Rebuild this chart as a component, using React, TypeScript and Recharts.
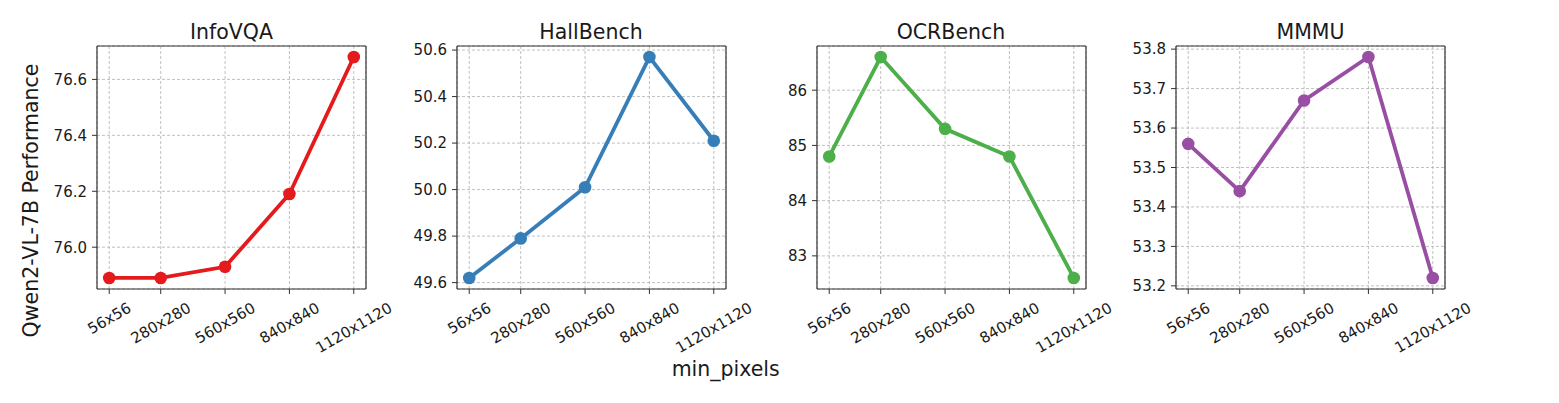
import React from 'react';
import { LineChart, Line, XAxis, YAxis, CartesianGrid } from 'recharts';

const categories = ['56x56', '280x280', '560x560', '840x840', '1120x1120'];
const minPixels = [56, 280, 560, 840, 1120];

const infoVQA = [75.89, 75.89, 75.93, 76.19, 76.68];
const hallBench = [49.62, 49.79, 50.01, 50.57, 50.21];
const ocrBench = [84.8, 86.6, 85.3, 84.8, 82.6];
const mmmu = [53.56, 53.44, 53.67, 53.78, 53.22];

const infoTicks = [76.0, 76.2, 76.4, 76.6];
const hallTicks = [49.6, 49.8, 50.0, 50.2, 50.4, 50.6];
const ocrTicks = [83, 84, 85, 86];
const mmmuTicks = [53.2, 53.3, 53.4, 53.5, 53.6, 53.7, 53.8];

const titles = ['InfoVQA', 'HallBench', 'OCRBench', 'MMMU'];
const colors = ['#e41a1c', '#377eb8', '#4daf4a', '#984ea3'];

const FONT = 'DejaVu Sans, sans-serif';
const AXIS = '#333333';
const TEXT = '#1a1a1a';

const PLOT_W = 269;
const PLOT_TOP = 46;
const PLOT_BOTTOM = 289;
const FIG_H = 403;
const LEFT_M = 60;
const RIGHT_M = 60;
const panelLefts = [97, 456.5, 816.5, 1176];

const padDomain = (vals: number[]): [number, number] => {
  const mn = Math.min(...vals);
  const mx = Math.max(...vals);
  const p = (mx - mn) * 0.05;
  return [mn - p, mx + p];
};

const RotTick = (props: any) => {
  const { x, y, payload } = props;
  const idx = minPixels.indexOf(payload.value);
  const label = idx >= 0 ? categories[idx] : String(payload.value);
  const fs = 15;
  const w = label.length * 0.63 * fs;
  const cy = y + 2.5 + (w * 0.5 + 9.5) / 2;
  return (
    <text
      x={x}
      y={cy}
      dy="0.36em"
      textAnchor="middle"
      transform={`rotate(-30, ${x}, ${cy})`}
      fontSize={fs}
      fill={TEXT}
      fontFamily={FONT}
    >
      {label}
    </text>
  );
};

type PanelProps = {
  values: number[];
  ticks: number[];
  color: string;
  left: number;
  decimals: number;
};

const Panel = ({ values, ticks, color, left, decimals }: PanelProps) => {
  const data = minPixels.map((px, i) => ({ px, v: values[i] }));
  const xDomain = padDomain(minPixels);
  const yDomain = padDomain(values);
  const width = LEFT_M + PLOT_W + RIGHT_M;
  return (
    <div style={{ position: 'absolute', left: left - LEFT_M, top: 0, width, height: FIG_H }}>
      <LineChart
        width={width}
        height={FIG_H}
        data={data}
        margin={{ top: PLOT_TOP - 1, right: RIGHT_M - 1, left: 0, bottom: 0 }}
      >
        <CartesianGrid stroke="#b0b0b0" strokeDasharray="3 2" strokeWidth={0.8} />
        <XAxis
          dataKey="px"
          type="number"
          domain={xDomain}
          allowDataOverflow
          ticks={minPixels}
          interval={0}
          height={FIG_H - PLOT_BOTTOM}
          tickSize={5}
          tickMargin={5}
          tick={<RotTick />}
          axisLine={{ stroke: AXIS, strokeWidth: 1.2 }}
          tickLine={{ stroke: AXIS, strokeWidth: 1 }}
        />
        <XAxis
          xAxisId="top"
          orientation="top"
          dataKey="px"
          type="number"
          domain={xDomain}
          allowDataOverflow
          height={1}
          tick={false}
          tickLine={false}
          axisLine={{ stroke: AXIS, strokeWidth: 1.2 }}
        />
        <YAxis
          type="number"
          domain={yDomain}
          allowDataOverflow
          ticks={ticks}
          interval={0}
          width={LEFT_M}
          tickSize={5}
          tickMargin={5}
          tickFormatter={(v: number) => v.toFixed(decimals)}
          tick={{ fontSize: 15, fill: TEXT, fontFamily: FONT }}
          axisLine={{ stroke: AXIS, strokeWidth: 1.2 }}
          tickLine={{ stroke: AXIS, strokeWidth: 1 }}
        />
        <YAxis
          yAxisId="right"
          orientation="right"
          type="number"
          domain={yDomain}
          allowDataOverflow
          width={1}
          tick={false}
          tickLine={false}
          axisLine={{ stroke: AXIS, strokeWidth: 1.2 }}
        />
        <Line
          type="linear"
          dataKey="v"
          stroke={color}
          strokeWidth={3.8}
          dot={{ r: 6.3, fill: color, stroke: color, strokeWidth: 0 }}
          activeDot={false}
          isAnimationActive={false}
        />
      </LineChart>
    </div>
  );
};

export default function App() {
  const series = [infoVQA, hallBench, ocrBench, mmmu];
  const tickSets = [infoTicks, hallTicks, ocrTicks, mmmuTicks];
  const decs = [1, 1, 0, 1];
  return (
    <div
      style={{
        position: 'absolute',
        left: 0,
        top: 0,
        width: 1559,
        height: FIG_H,
        background: '#ffffff',
        overflow: 'hidden',
        fontFamily: FONT,
      }}
    >
      {series.map((vals, i) => (
        <Panel
          key={titles[i]}
          values={vals}
          ticks={tickSets[i]}
          color={colors[i]}
          left={panelLefts[i]}
          decimals={decs[i]}
        />
      ))}
      <svg
        width={1559}
        height={FIG_H}
        style={{ position: 'absolute', left: 0, top: 0, pointerEvents: 'none' }}
      >
        {titles.map((t, i) => (
          <text
            key={t}
            x={panelLefts[i] + PLOT_W / 2}
            y={39.3}
            textAnchor="middle"
            fontSize={20.5}
            fill={TEXT}
            fontFamily={FONT}
          >
            {t}
          </text>
        ))}
        <text
          x={38.3}
          y={200.5}
          textAnchor="middle"
          fontSize={20.5}
          fill={TEXT}
          fontFamily={FONT}
          transform="rotate(-90, 38.3, 200.5)"
        >
          Qwen2-VL-7B Performance
        </text>
        <text x={725.7} y={376} textAnchor="middle" fontSize={20.5} fill={TEXT} fontFamily={FONT}>
          min_pixels
        </text>
      </svg>
    </div>
  );
}
